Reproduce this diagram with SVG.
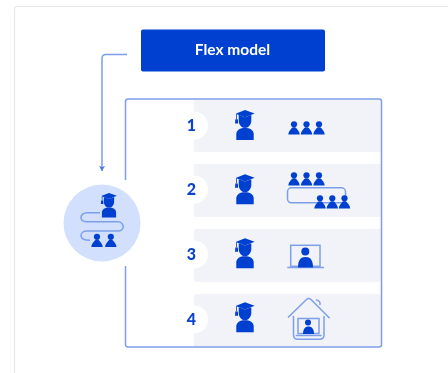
<svg xmlns="http://www.w3.org/2000/svg" width="448" height="373" viewBox="0 0 448 373">
<style>
.ln{fill:none;stroke:#7d9fe9;stroke-width:1.5}
.ic{fill:#0040d0}
.row{fill:#f1f3f8}
.num{font-family:"Lato","Liberation Sans",sans-serif;font-weight:900;font-size:16px;fill:#0b43cf;text-anchor:middle}
.lbl{font-family:"Lato","Liberation Sans",sans-serif;font-weight:700;font-size:15.5px;fill:#fff;text-anchor:middle}
</style>
<defs>
<filter id="soft" x="0" y="0" width="448" height="373" filterUnits="userSpaceOnUse"><feGaussianBlur stdDeviation="0.5"/></filter>
<symbol id="grad" overflow="visible" viewBox="0 0 20 31" width="20" height="31">
<path class="ic" d="M10 0 L20 3.600 L10 7.500 L1.700 4.300 V9.500 H0.900 V3.600 Z"/>
<path class="ic" d="M0 9.500 H2.600 L2.900 14 H-0.300 Z"/>
<path class="ic" d="M3.500 5 L10 7.500 L16.500 5 V11 C16.500 15 13.500 18.500 10 18.500 C6.500 18.500 3.500 15 3.500 11 Z"/>
<path class="ic" d="M1 31 V25 C1 20.500 5 18.500 10 18.500 C15 18.500 19 20.500 19 25 V31 Z"/>
</symbol>
<symbol id="p" overflow="visible" viewBox="0 0 11 13" width="11" height="13">
<circle class="ic" cx="5.500" cy="3.100" r="3.100"/>
<path class="ic" d="M-0.200 13.300 C0 10 1.800 8.800 2.600 7.800 C3 5.500 8 5.500 8.400 7.800 C9.200 8.800 11 10 11.200 13.300 Z"/>
</symbol>
<marker id="ah" markerWidth="6" markerHeight="6" refX="5" refY="3" orient="auto" markerUnits="userSpaceOnUse">
<path d="M0 0 L5 3 L0 6 L1 3 Z" fill="#4f78df"/>
</marker>
</defs>
<rect width="448" height="373" fill="#fff"/>
<g filter="url(#soft)">
<path d="M448 6.500 H17 Q14.500 6.500 14.500 9 V373" fill="none" stroke="#e7e8ea" stroke-width="1.200"/>

<g id="rows">
<path class="row" d="M194 100 H380.500 V152 H196 Q194 152 194 150 Z"/>
<path class="row" d="M196 164 H380.500 V217 H196 Q194 217 194 215 V166 Q194 164 196 164 Z"/>
<path class="row" d="M196 229 H380.500 V282 H196 Q194 282 194 280 V231 Q194 229 196 229 Z"/>
<path class="row" d="M196 294 H380.500 V346.500 H194 V296 Q194 294 196 294 Z"/>
</g>

<g id="panel">
<path class="ln" d="M125.500 180 V101.500 Q125.500 99 128 99 H379 Q381.500 99 381.500 101.500 V344.500 Q381.500 347 379 347 H128 Q125.500 347 125.500 344.500 V266"/>
</g>

<g id="connectors">
<path class="ln" d="M127 54.500 H106 Q102 54.500 102 58.500 V171" marker-end="url(#ah)"/>
</g>

<g id="node-flex">
<rect x="141" y="29.500" width="184" height="42" rx="2" fill="#0040d0"/>
<text class="lbl" x="232.500" y="55">Flex model</text>
</g>

<g id="node-start">
<circle cx="102" cy="223" r="38.500" fill="#d2e0fd"/>
<use href="#grad" x="100.500" y="193" width="17" height="24.500"/>
<path class="ln" d="M100 212.700 H87 C83.500 212.700 81 215 81 217.500 C81 220 83.500 221.800 87 221.800 H118 C121 221.800 123.200 224 123.200 226.500 C123.200 229 121 231 118 231 H87 C83.500 231 81 233 81 235.500 C81 238 84 240.300 90 240.300"/>
<use href="#p" x="91.500" y="233" width="11" height="14.500"/>
<use href="#p" x="105.300" y="233" width="11" height="14.500"/>
</g>

<g id="node-1">
<circle cx="194" cy="125.500" r="14" fill="#fff"/>
<text class="num" x="191.500" y="131">1</text>
<use href="#grad" x="235" y="110" width="20" height="30"/>
<use href="#p" x="288.500" y="121" width="11" height="13.300"/>
<use href="#p" x="301" y="121" width="11" height="13.300"/>
<use href="#p" x="313.500" y="121" width="11" height="13.300"/>
</g>

<g id="node-2">
<circle cx="194" cy="189.500" r="14" fill="#fff"/>
<text class="num" x="191.500" y="195">2</text>
<use href="#grad" x="235" y="174.300" width="20" height="30"/>
<use href="#p" x="288.500" y="172" width="11" height="13.300"/>
<use href="#p" x="301" y="172" width="11" height="13.300"/>
<use href="#p" x="313.500" y="172" width="11" height="13.300"/>
<rect class="ln" x="287.500" y="187.800" width="58" height="15" rx="4"/>
<use href="#p" x="314.500" y="195" width="11" height="13.300"/>
<use href="#p" x="326.800" y="195" width="11" height="13.300"/>
<use href="#p" x="339" y="195" width="11" height="13.300"/>
</g>

<g id="node-3">
<circle cx="194" cy="254.500" r="14" fill="#fff"/>
<text class="num" x="191.500" y="260">3</text>
<use href="#grad" x="235" y="238.300" width="20" height="30"/>
<rect class="ln" x="290.700" y="245.300" width="29.300" height="21"/>
<path class="ln" d="M287.300 267.500 H324"/>
<circle class="ic" cx="305.300" cy="251.500" r="4"/>
<path class="ic" d="M298 267.500 C298 260 300.500 257 305.500 257 C310.500 257 313 260 313 267.500 Z"/>
</g>

<g id="node-4">
<circle cx="194" cy="319.500" r="14" fill="#fff"/>
<text class="num" x="191.500" y="325">4</text>
<use href="#grad" x="235" y="302.300" width="20" height="30"/>
<path class="ln" d="M288 317.500 L306.500 299.500 Q308.700 297.500 311 299.500 L329.700 318.300"/>
<path class="ln" d="M316 300 C319 300 320.500 302 320 305"/>
<path class="ln" d="M293.500 316 V335 Q293.500 339.300 298 339.300 H319.500 Q324 339.300 324 335 V316"/>
<rect class="ln" x="298" y="318.500" width="21" height="15"/>
<path class="ln" d="M295.700 335.500 H321.700"/>
<circle class="ic" cx="308" cy="322.500" r="3"/>
<path class="ic" d="M303 334 C303 329 305 326.500 308.500 326.500 C312 326.500 314 329 314 334 Z"/>
</g>
</g>
</svg>
